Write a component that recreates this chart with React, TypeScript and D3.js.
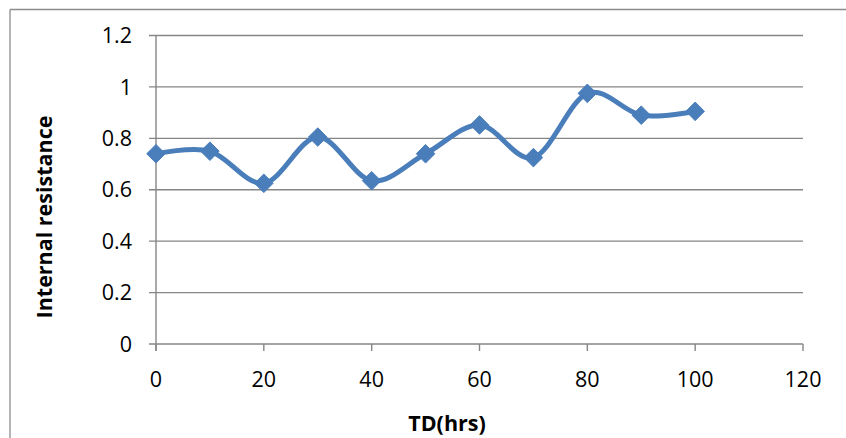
import React from "react";
import * as d3 from "d3";

const tdHours = [0, 10, 20, 30, 40, 50, 60, 70, 80, 90, 100];
const resistance = [0.74, 0.75, 0.625, 0.805, 0.635, 0.74, 0.852, 0.725, 0.975, 0.89, 0.905];
const xTicks = [0, 20, 40, 60, 80, 100, 120];
const yTicks = [0, 0.2, 0.4, 0.6, 0.8, 1, 1.2];

const W = 846;
const H = 438;
const FONT = "'Open Sans', 'Noto Sans', sans-serif";

export default function App() {
  const x = d3.scaleLinear().domain([0, 120]).range([156, 803]);
  const y = d3.scaleLinear().domain([0, 1.2]).range([344, 35.5]);
  const line = d3
    .line<number>()
    .x((_, i) => x(tdHours[i]))
    .y((d) => y(d))
    .curve(d3.curveCardinal.tension(0));
  const diamond = d3.symbol().type(d3.symbolDiamond2).size(220)();
  const grid = "#868686";

  return (
    <svg width={W} height={H} style={{ position: "absolute", left: 0, top: 0 }}>
      <rect x={0} y={0} width={W} height={H} fill="#fff" />
      <line x1={10} y1={9.5} x2={W} y2={9.5} stroke="#8c8c8c" strokeWidth={1.3} />
      <line x1={10} y1={9.5} x2={10} y2={H} stroke="#8c8c8c" strokeWidth={1.3} />
      {yTicks.map((t) => (
        <g key={"y" + t}>
          <line x1={149} x2={x(120)} y1={y(t)} y2={y(t)} stroke={grid} strokeWidth={1.4} />
          <text
            x={132}
            y={y(t)}
            dy="0.36em"
            textAnchor="end"
            fontFamily={FONT}
            fontSize={21.5}
            fill="#000"
          >
            {String(t)}
          </text>
        </g>
      ))}
      <line x1={x(0)} x2={x(0)} y1={y(1.2)} y2={y(0) + 7} stroke={grid} strokeWidth={1.4} />
      {xTicks.map((t) => (
        <g key={"x" + t}>
          <line x1={x(t)} x2={x(t)} y1={y(0)} y2={y(0) + 7} stroke={grid} strokeWidth={1.4} />
          <text
            x={x(t)}
            y={387}
            textAnchor="middle"
            fontFamily={FONT}
            fontSize={21.5}
            fill="#000"
          >
            {String(t)}
          </text>
        </g>
      ))}
      <path d={line(resistance) || ""} fill="none" stroke="#4A7EBB" strokeWidth={5} />
      {resistance.map((v, i) => (
        <path
          key={"m" + i}
          d={diamond || ""}
          transform={`translate(${x(tdHours[i])},${y(v)})`}
          fill="#4A7EBB"
          stroke="#4A7EBB"
          strokeWidth={1}
        />
      ))}
      <text
        transform={`translate(52,217) rotate(-90)`}
        textAnchor="middle"
        fontFamily={FONT}
        fontSize={21.5}
        fontWeight="bold"
        fill="#000"
      >
        Internal resistance
      </text>
      <text
        x={447}
        y={431}
        textAnchor="middle"
        fontFamily={FONT}
        fontSize={21.5}
        fontWeight="bold"
        fill="#000"
      >
        TD(hrs)
      </text>
    </svg>
  );
}
